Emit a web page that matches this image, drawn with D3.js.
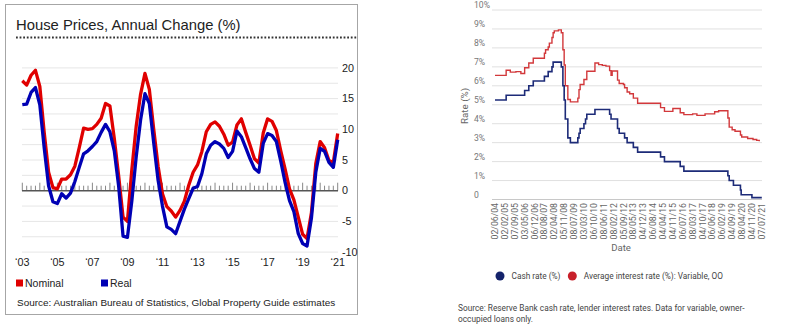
<!DOCTYPE html>
<html>
<head>
<meta charset="utf-8">
<script src="https://cdn.jsdelivr.net/npm/d3@7"></script>
<style>
  html, body { margin: 0; padding: 0; background: #fff; }
  svg { display: block; }
</style>
</head>
<body>
<svg id="chart" width="812" height="327"></svg>
<script>
// ---------- House prices: annual change (%), quarterly from 2003 Q1 ----------
const houseStartYear = 2003;
const nominalChange = [17.9,17.2,18.8,19.6,17.0,9.5,3.0,0.5,0.3,1.9,
  1.9,2.6,4.0,7.0,10.2,10.0,10.1,10.8,11.8,14.2,
  13.8,8.5,2.4,-4.3,-5.0,3.4,10.5,15.7,19.1,16.5,
  10.0,4.0,-0.5,-2.6,-3.3,-4.3,-3.2,-1.7,0.9,3.0,
  4.2,6.4,9.6,10.8,11.2,10.5,9.2,7.4,7.9,10.7,
  11.7,9.5,7.4,5.2,4.5,9.4,11.7,11.3,9.8,6.5,
  3.5,0.3,-1.5,-4.3,-7.1,-7.8,-3.6,4.4,8.0,7.0,
  4.9,4.6,9.3];
const realChange = [14.0,14.1,16.0,16.8,14.0,7.0,0.8,-1.8,-2.1,-0.5,
  -1.2,-0.4,1.5,3.8,6.0,6.5,7.2,8.0,9.5,10.8,
  9.6,6.5,0.7,-7.4,-7.6,-1.7,5.5,11.5,15.8,14.2,
  7.8,1.7,-2.5,-5.9,-6.3,-7.0,-5.0,-3.0,-1.3,0.4,
  0.7,2.8,6.0,7.4,8.0,7.6,6.9,5.4,6.4,9.7,
  8.8,7.0,5.2,3.6,3.0,7.7,9.3,9.0,8.0,4.8,
  1.3,-1.6,-3.4,-7.0,-8.6,-9.0,-4.5,3.0,6.9,6.4,
  4.6,3.8,8.3];
const houseYearTicks = [2003,2005,2007,2009,2011,2013,2015,2017,2019,2021];
const houseYearLabels = ["‘03","‘05","‘07","‘09","‘11","‘13","‘15","‘17","‘19","‘21"];
const houseValueTicks = [20,15,10,5,0,-5,-10];

// ---------- Cash rate vs average variable owner-occupier rate ----------
const dateLabels = ["02/06/04","02/02/05","07/09/05","03/05/06","06/12/06","08/08/07","02/04/08",
  "05/11/08","08/07/09","03/03/10","06/10/10","08/06/11","08/02/12","05/09/12","08/05/13",
  "04/12/13","06/08/14","04/04/15","04/11/15","06/07/16","08/03/17","04/10/17","06/06/18",
  "06/02/19","04/09/19","08/04/20","04/11/20","07/07/21"];
const rateTicks = [0,1,2,3,4,5,6,7,8,9,10];
const cashRate = [
  ["2004-06-02",5.25],["2005-03-02",5.5],["2006-05-03",5.75],["2006-08-02",6.0],["2006-11-08",6.25],
  ["2007-08-08",6.5],["2007-11-07",6.75],["2008-02-06",7.0],["2008-03-05",7.25],["2008-09-03",7.0],
  ["2008-10-08",6.0],["2008-11-05",5.25],["2008-12-03",4.25],["2009-02-04",3.25],["2009-04-08",3.0],
  ["2009-10-07",3.25],["2009-11-04",3.5],["2009-12-02",3.75],["2010-03-03",4.0],["2010-04-07",4.25],
  ["2010-05-05",4.5],["2010-11-03",4.75],["2011-11-02",4.5],["2011-12-07",4.25],["2012-05-02",3.75],
  ["2012-06-06",3.5],["2012-10-03",3.25],["2012-12-05",3.0],["2013-05-08",2.75],["2013-08-07",2.5],
  ["2015-02-04",2.25],["2015-05-06",2.0],["2016-05-04",1.75],["2016-08-03",1.5],["2019-06-05",1.25],
  ["2019-07-03",1.0],["2019-10-02",0.75],["2020-03-04",0.5],["2020-03-20",0.25],["2020-11-04",0.1],
  ["2021-07-07",0.1]];
const variableRate = [
  ["2004-06-02",6.55],["2005-03-02",6.82],["2005-06-01",6.72],["2005-10-05",6.75],["2006-02-01",6.65],
  ["2006-05-03",6.95],["2006-08-02",7.2],["2006-11-08",7.45],["2007-08-08",7.72],["2007-09-05",7.9],
  ["2007-11-07",8.05],["2007-12-05",8.25],["2008-02-06",8.55],["2008-03-05",8.8],["2008-04-02",8.9],
  ["2008-07-02",8.95],["2008-09-03",8.8],["2008-10-08",7.9],["2008-11-05",7.1],["2008-12-03",6.0],
  ["2009-02-04",5.28],["2009-04-08",5.15],["2009-10-07",5.35],["2009-11-04",5.8],["2009-12-02",6.07],
  ["2010-03-03",6.33],["2010-05-05",6.77],["2010-11-03",7.2],["2011-02-02",7.12],["2011-05-04",7.08],
  ["2011-08-03",7.04],["2011-11-02",6.8],["2011-12-07",6.55],["2012-01-04",6.78],["2012-05-02",6.3],
  ["2012-06-06",6.12],["2012-09-05",6.07],["2012-10-03",5.9],["2012-12-05",5.67],["2013-02-06",5.58],
  ["2013-05-08",5.35],["2013-08-07",5.08],["2015-02-04",4.85],["2015-05-06",4.65],["2015-11-04",4.8],
  ["2016-05-04",4.58],["2016-08-03",4.48],["2017-03-08",4.52],["2017-06-07",4.44],["2017-12-06",4.52],
  ["2018-08-01",4.63],["2018-11-07",4.68],["2019-06-05",4.3],["2019-07-03",3.82],["2019-09-04",3.68],
  ["2019-11-06",3.6],["2020-03-04",3.4],["2020-04-01",3.3],["2020-08-05",3.22],["2020-12-01",3.17],
  ["2021-03-02",3.12],["2021-05-05",3.08]];

const svg = d3.select("#chart");

// =============== Left panel ===============
const leftFont = "'Liberation Sans', Arial, sans-serif";
const L = svg.append("g");

L.append("rect").attr("x", 5.5).attr("y", 4.5).attr("width", 352).attr("height", 310)
  .attr("fill", "none").attr("stroke", "#a6a6a6");

L.append("text").attr("x", 16).attr("y", 30)
  .attr("font-family", leftFont).attr("font-size", 14.8).attr("fill", "#222")
  .text("House Prices, Annual Change (%)");

L.append("line").attr("x1", 16).attr("x2", 357).attr("y1", 37.5).attr("y2", 37.5)
  .attr("stroke", "#333").attr("stroke-width", 1.8).attr("stroke-dasharray", "1.8,1.8");

const xL = d3.scaleLinear().domain([2003, 2021]).range([22.3, 337.7]);
const yL = d3.scaleLinear().domain([-10, 20]).range([252.1, 67.9]);
const plotL = [22, 338];

// light horizontal gridlines every 2.5 points
L.append("g").selectAll("line")
  .data(d3.range(-10, 20.01, 2.5).filter(v => v !== 0))
  .join("line")
  .attr("x1", plotL[0]).attr("x2", plotL[1])
  .attr("y1", d => yL(d)).attr("y2", d => yL(d))
  .attr("stroke", "#e6e6e6").attr("stroke-width", 1);

// zero axis with quarterly ticks
const quarters = d3.range(nominalChange.length);
L.append("g").selectAll("line")
  .data(quarters)
  .join("line")
  .attr("x1", q => xL(houseStartYear + q / 4)).attr("x2", q => xL(houseStartYear + q / 4))
  .attr("y1", yL(0)).attr("y2", q => yL(0) - (q % 4 === 0 ? 8 : 5))
  .attr("stroke", "#888").attr("stroke-width", 1);
L.append("line").attr("x1", plotL[0]).attr("x2", plotL[1])
  .attr("y1", yL(0)).attr("y2", yL(0))
  .attr("stroke", "#555").attr("stroke-width", 1.6);

const houseLine = d3.line()
  .x((d, i) => xL(houseStartYear + i / 4))
  .y(d => yL(d));

L.append("path").datum(nominalChange).attr("d", houseLine)
  .attr("fill", "none").attr("stroke", "#e00000").attr("stroke-width", 3.3)
  .attr("stroke-linejoin", "round");
L.append("path").datum(realChange).attr("d", houseLine)
  .attr("fill", "none").attr("stroke", "#0000b4").attr("stroke-width", 3.3)
  .attr("stroke-linejoin", "round");

// value labels on the right
L.append("g").selectAll("text")
  .data(houseValueTicks)
  .join("text")
  .attr("x", 342).attr("y", d => yL(d)).attr("dy", "0.35em")
  .attr("font-family", leftFont).attr("font-size", 10.8).attr("fill", "#222")
  .text(d => d);

// year labels
L.append("g").selectAll("text")
  .data(houseYearTicks)
  .join("text")
  .attr("x", d => xL(d)).attr("y", 266)
  .attr("text-anchor", "middle")
  .attr("font-family", leftFont).attr("font-size", 10.8).attr("fill", "#222")
  .text((d, i) => houseYearLabels[i]);

// legend
const legendL = [
  { label: "Nominal", color: "#e00000", x: 16 },
  { label: "Real", color: "#0000b4", x: 101 }
];
legendL.forEach(item => {
  L.append("rect").attr("x", item.x).attr("y", 279.5).attr("width", 7).attr("height", 7)
    .attr("fill", item.color);
  L.append("text").attr("x", item.x + 9).attr("y", 287)
    .attr("font-family", leftFont).attr("font-size", 10.5).attr("fill", "#222")
    .text(item.label);
});

L.append("text").attr("x", 17).attr("y", 305.5)
  .attr("font-family", leftFont).attr("font-size", 9.95).attr("fill", "#222")
  .text("Source: Australian Bureau of Statistics, Global Property Guide estimates");

// =============== Right panel ===============
const rightFont = "Roboto, 'Noto Sans', sans-serif";
const R = svg.append("g");
const parseLabel = d3.timeParse("%d/%m/%y");
const parseIso = d3.timeParse("%Y-%m-%d");

// labelled dates sit at even spacing along the axis
const axisX = [495, 761.8];
const labelDates = dateLabels.map(parseLabel);
const xR = d3.scaleTime()
  .domain(labelDates)
  .range(labelDates.map((d, k) => axisX[0] + k * (axisX[1] - axisX[0]) / (labelDates.length - 1)));
const yR = d3.scaleLinear().domain([0, 10]).range([199.5, 10]);

R.append("g").selectAll("line")
  .data(rateTicks)
  .join("line")
  .attr("x1", 492).attr("x2", 762)
  .attr("y1", d => yR(d)).attr("y2", d => yR(d))
  .attr("stroke", d => d === 0 ? "#c8c8c8" : "#e0e0e0").attr("stroke-width", 1);

R.append("g").selectAll("text")
  .data(rateTicks)
  .join("text")
  .attr("x", 474).attr("y", d => yR(d) - 2)
  .attr("font-family", rightFont).attr("font-size", 8.6).attr("fill", "#777")
  .text(d => d === 0 ? "0" : d + "%");

R.append("g").selectAll("text")
  .data(labelDates)
  .join("text")
  .attr("transform", d => `translate(${xR(d)},203) rotate(-90)`)
  .attr("text-anchor", "end").attr("dy", "0.35em")
  .attr("font-family", rightFont).attr("font-size", 8.7).attr("fill", "#666")
  .text((d, i) => dateLabels[i]);

R.append("text").attr("x", 621).attr("y", 250.5).attr("text-anchor", "middle")
  .attr("font-family", rightFont).attr("font-size", 9.6).attr("fill", "#666")
  .text("Date");

R.append("text").attr("transform", "translate(465,106) rotate(-90)")
  .attr("text-anchor", "middle").attr("dy", "0.35em")
  .attr("font-family", rightFont).attr("font-size", 9.8).attr("fill", "#666")
  .text("Rate (%)");

const rateLine = d3.line()
  .curve(d3.curveStepAfter)
  .x(d => xR(parseIso(d[0])))
  .y(d => yR(d[1]));

R.append("path").datum(variableRate).attr("d", rateLine)
  .attr("fill", "none").attr("stroke", "#d2383b").attr("stroke-width", 1.4);
R.append("path").datum(cashRate).attr("d", rateLine)
  .attr("fill", "none").attr("stroke", "#1d2b78").attr("stroke-width", 1.6);

const legendR = [
  { label: "Cash rate (%)", color: "#14236b", cx: 500 },
  { label: "Average interest rate (%): Variable, OO", color: "#c8202a", cx: 572.3 }
];
legendR.forEach(item => {
  R.append("circle").attr("cx", item.cx).attr("cy", 276).attr("r", 4.5).attr("fill", item.color);
  R.append("text").attr("x", item.cx + 11.5).attr("y", 276).attr("dy", "0.35em")
    .attr("font-family", rightFont).attr("font-size", 8.3).attr("fill", "#444")
    .text(item.label);
});

const sourceLines = [
  "Source: Reserve Bank cash rate, lender interest rates. Data for variable, owner-",
  "occupied loans only."
];
R.append("g").selectAll("text")
  .data(sourceLines)
  .join("text")
  .attr("x", 458).attr("y", (d, i) => 310.5 + i * 11.8)
  .attr("font-family", rightFont).attr("font-size", 8.3).attr("fill", "#444")
  .text(d => d);
</script>
</body>
</html>
